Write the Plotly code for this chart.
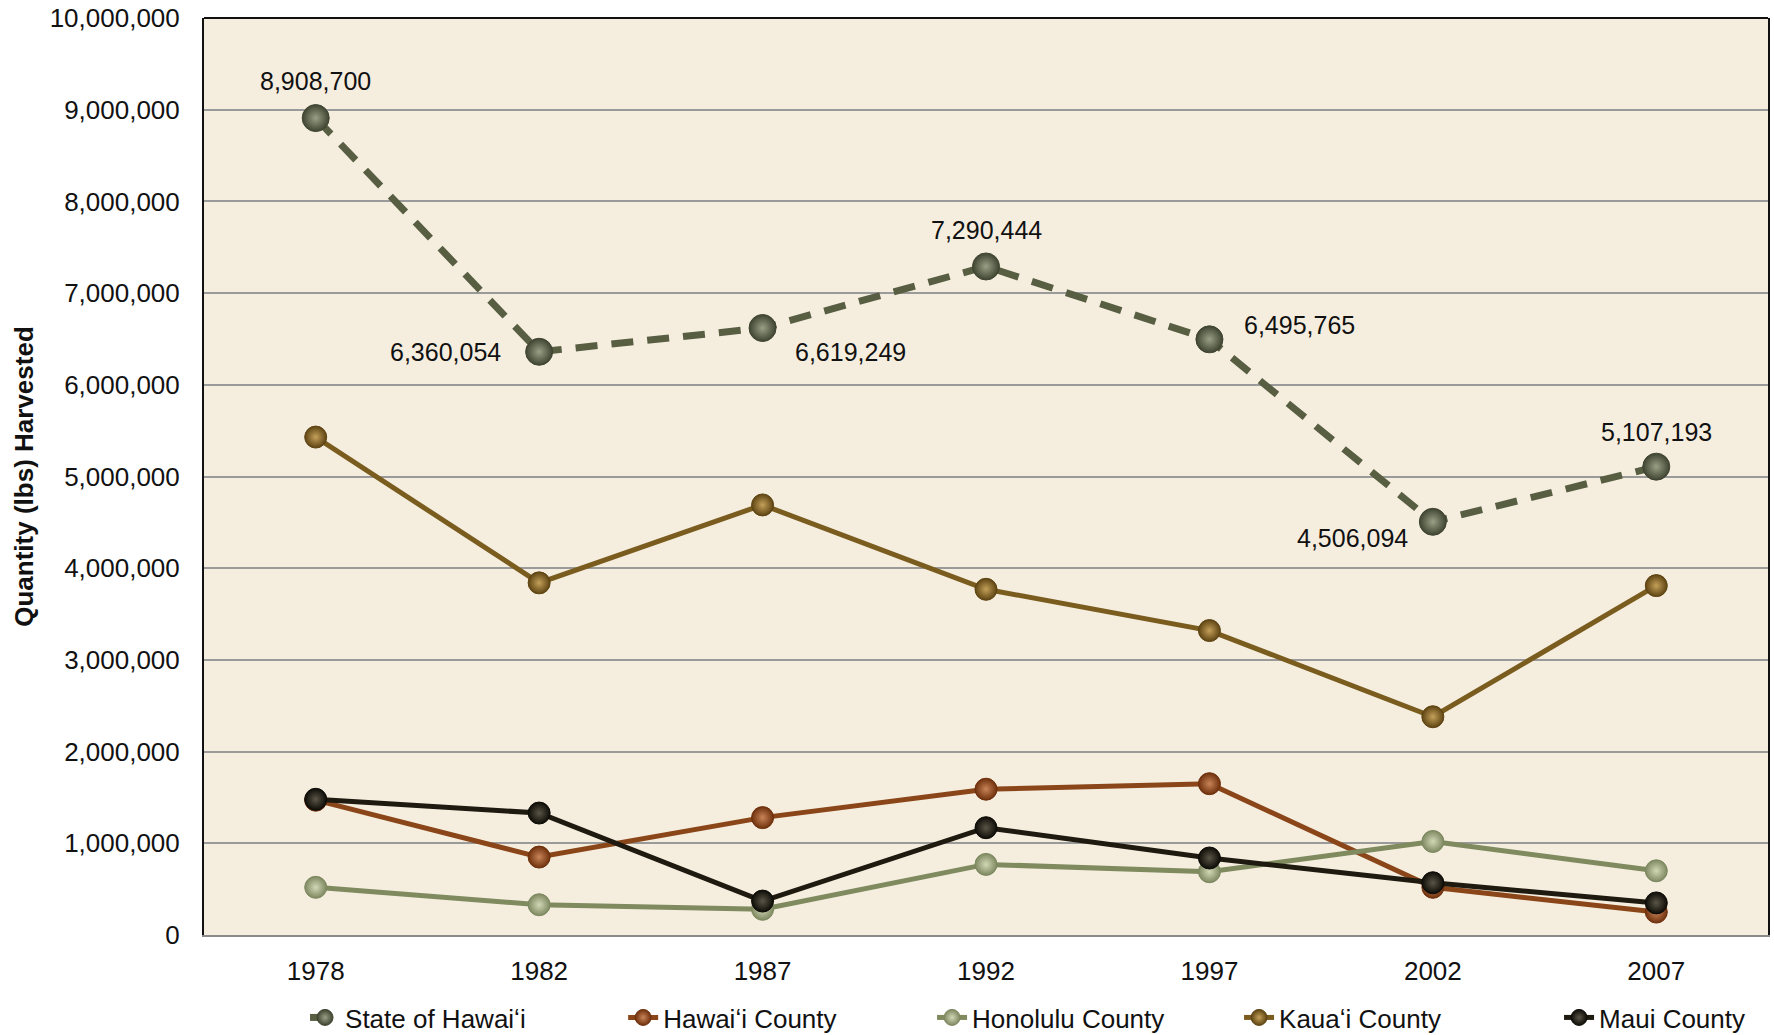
import plotly.graph_objects as go

years = ["1978", "1982", "1987", "1992", "1997", "2002", "2007"]
state = [8908700, 6360054, 6619249, 7290444, 6495765, 4506094, 5107193]
hawaii_county = [1470000, 850000, 1280000, 1590000, 1650000, 520000, 250000]
honolulu_county = [520000, 330000, 280000, 770000, 690000, 1020000, 700000]
kauai_county = [5430000, 3840000, 4690000, 3770000, 3320000, 2380000, 3810000]
maui_county = [1480000, 1330000, 370000, 1170000, 840000, 570000, 350000]
y_ticks = list(range(0, 10000001, 1000000))

FONT = "Liberation Sans, Arial, Helvetica, sans-serif"

fig = go.Figure()

def add_series(name, values, legend_id, line_color, marker_edge, marker_center, size, width, dash="solid"):
    fig.add_trace(go.Scatter(
        x=years, y=values, name=name, mode="lines+markers", legend=legend_id,
        line=dict(color=line_color, width=width, dash=dash),
        marker=dict(size=size, color=marker_edge,
                    gradient=dict(type="radial", color=marker_center),
                    line=dict(width=1, color=marker_edge)),
    ))

add_series("State of Hawai\u02bbi", state, "legend", "#585e42", "#3f4431", "#9a9f86", 27, 7, "22px,14px")
add_series("Hawai\u02bbi County", hawaii_county, "legend2", "#8a4518", "#6e300c", "#c98458", 22, 5)
add_series("Honolulu County", honolulu_county, "legend3", "#7f8a5e", "#7d8860", "#d2d7b6", 22, 5)
add_series("Kaua\u02bbi County", kauai_county, "legend4", "#7a5c1f", "#5e4412", "#c4a05a", 22, 5)
add_series("Maui County", maui_county, "legend5", "#1e1a10", "#0e0c07", "#5a5546", 22, 5)

# Data labels for state series (offsets in pixels)
offsets = [(0, 37), (-94, 0), (88, -24), (0, 36), (90, 14), (-80, -16), (0, 35)]
for i, v in enumerate(state):
    dx, dy = offsets[i]
    fig.add_annotation(x=i, y=v, xref="x", yref="y", text=f"{v:,}", showarrow=False,
                       xshift=dx, yshift=dy,
                       font=dict(family=FONT, size=25, color="#111"))

# top border
fig.add_shape(type="line", xref="paper", yref="paper", x0=0, x1=1, y0=1, y1=1,
              line=dict(color="#111", width=2))

legend_x = [0.0646, 0.268, 0.4655, 0.6618, 0.8664]
def legend_style(x):
    return dict(orientation="h", x=x, xanchor="left", y=-0.09, yanchor="middle",
                font=dict(family=FONT, size=26, color="#111"),
                bgcolor="rgba(0,0,0,0)")

fig.update_layout(
    width=1774, height=1035,
    margin=dict(l=204, r=6, t=18, b=100, autoexpand=False),
    paper_bgcolor="white", plot_bgcolor="#f5eedf",
    font=dict(family=FONT, size=26, color="#111"),
    showlegend=True,
    legend=legend_style(legend_x[0]),
    legend2=legend_style(legend_x[1]),
    legend3=legend_style(legend_x[2]),
    legend4=legend_style(legend_x[3]),
    legend5=legend_style(legend_x[4]),
    xaxis=dict(type="category", range=[-0.5, 6.5], showgrid=False, automargin=False,
               showline=True, linecolor="#8a8a8a", linewidth=2,
               ticks="", ticklabelstandoff=12,
               tickfont=dict(family=FONT, size=26, color="#111")),
    yaxis=dict(range=[0, 10000000], tickvals=y_ticks, automargin=False,
               ticktext=[f"{t:,}" for t in y_ticks],
               showgrid=True, gridcolor="#9a9a9a", gridwidth=1.5,
               zeroline=False,
               showline=True, linecolor="#111", linewidth=2, mirror=True,
               ticks="", ticklabelstandoff=17,
               tickfont=dict(family=FONT, size=26, color="#111")),
)
fig.update_yaxes(title=dict(text="<b>Quantity (lbs) Harvested</b>", standoff=9,
                            font=dict(family=FONT, size=26, color="#111")))

fig.write_html("out.html", config={"displayModeBar": False},
               post_script="document.body.style.margin='0';")
